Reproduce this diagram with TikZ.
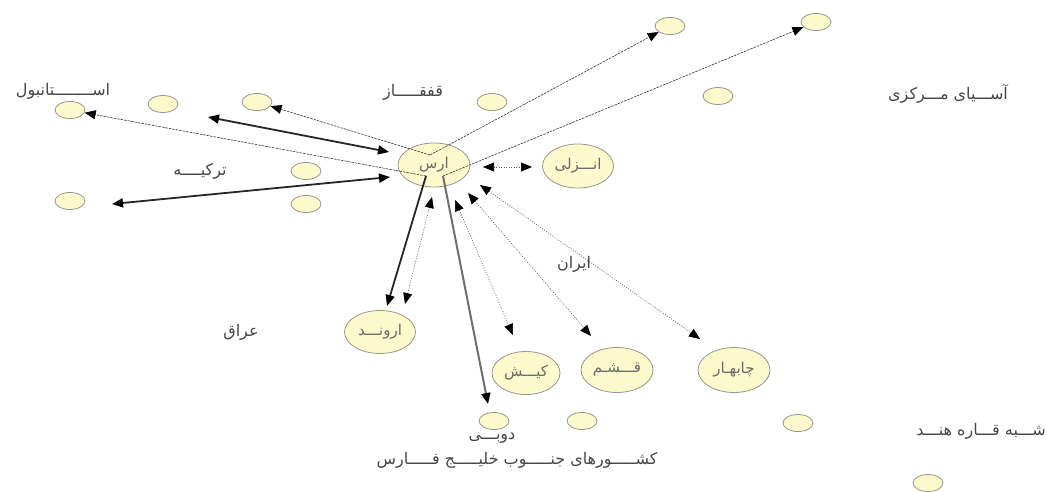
\documentclass[tikz,border=0pt]{standalone}
\usepackage{fontspec}
\newfontfamily\ar[Script=Arabic]{DejaVu Sans}
\TeXXeTstate=1
\usetikzlibrary{shapes.geometric,arrows.meta}
\definecolor{nodefill}{RGB}{252,250,205}
\definecolor{nodeline}{RGB}{150,150,140}
\definecolor{txt}{RGB}{70,70,70}
\definecolor{gboldc}{RGB}{110,110,110}
\begin{document}
\begin{tikzpicture}[x=1pt,y=-1pt,
  small/.style={ellipse,draw=nodeline,fill=nodefill,line width=0.8pt,minimum width=30pt,minimum height=17pt,inner sep=0pt},
  big/.style={ellipse,draw=nodeline,fill=nodefill,line width=0.8pt,minimum width=71pt,minimum height=44pt,inner sep=0pt,font=\ar\fontsize{15}{16}\selectfont,text=txt!80},
  lbl/.style={font=\ar\fontsize{16}{17}\selectfont,text=txt,inner sep=0pt},
  tip/.style={-{Triangle[length=11pt,width=9pt,color=black]}},
  dtip/.style={{Triangle[length=11pt,width=9pt,color=black]}-{Triangle[length=11pt,width=9pt,color=black]}},
  thinl/.style={line width=0.6pt,draw=black!80,dash pattern=on 2.5pt off 1pt},
  dots/.style={line width=0.6pt,draw=black!65,dash pattern=on 1pt off 1.5pt},
  boldl/.style={line width=1.8pt,draw=black!85},
  gboldl/.style={line width=2pt,draw=gboldc},
]
\useasboundingbox (0,0) rectangle (1047,491);
% small nodes
\node[small] (s1) at (70,110) {};
\node[small] (s2) at (163,104) {};
\node[small] (s3) at (257,102) {};
\node[small] (s4) at (306,171) {};
\node[small] (s5) at (306,204) {};
\node[small] (s6) at (70,201) {};
\node[small] (s7) at (492,102) {};
\node[small] (s8) at (670,26) {};
\node[small] (s9) at (816,22) {};
\node[small] (s10) at (718,96) {};
\node[small] (s11) at (494,421) {};
\node[small] (s12) at (582,421) {};
\node[small] (s13) at (798,423) {};
\node[small] (s14) at (928,483) {};
% big nodes
\node[big,minimum width=72pt] (ars) at (434,165) {\beginR ارس\endR};
\node[big] (anzali) at (578,166) {\beginR انـــزلی\endR};
\node[big,minimum height=43pt] (arvand) at (380,332) {\beginR ارونـــد\endR};
\node[big,minimum width=68pt,minimum height=43pt] (kish) at (526,373) {\beginR کیـــش\endR};
\node[big,minimum width=72pt,minimum height=45pt] (qeshm) at (617,370) {\beginR قـــشـم\endR};
\node[big,minimum width=72pt,minimum height=45pt] (chabahar) at (734,370) {\beginR چابهـار\endR};
% labels
\node[lbl] (istanbul) at (63,91) {\beginR اســــــــتانبول\endR};
\node[lbl] (qafqaz) at (413,92) {\beginR قفقـــــاز\endR};
\node[lbl] (torkiye) at (200,171) {\beginR ترکیــــه\endR};
\node[lbl] (asia) at (948,94) {\beginR آســـیای مـــرکزی\endR};
\node[lbl] (iran) at (574,264) {\beginR ایران\endR};
\node[lbl] (iraq) at (241,332) {\beginR عراق\endR};
\node[lbl,anchor=east] (hind) at (1046,431) {\beginR شـــبه قـــاره هنـــد\endR};
\node[lbl] (dubai) at (492,438) {\beginR دوبـــی\endR};
\node[lbl] (khalij) at (517,460) {\beginR کشـــــورهای جنـــــوب خلیـــــج فـــــارس\endR};
% hub points inside ars
\coordinate (cT) at (430,155);
\coordinate (cL) at (426,176);
\coordinate (cR) at (443,176);
% free ends
\coordinate (b1L) at (208,117);
\coordinate (b1R) at (389,152);
\coordinate (b2L) at (112,204);
\coordinate (b2R) at (390,177);
\coordinate (anzL) at (483,167);
\coordinate (anzR) at (532,167);
\coordinate (arvU) at (432,197);
\coordinate (arvD) at (405,304);
\coordinate (kishU) at (455,200);
\coordinate (kishD) at (513,335);
\coordinate (qeshmU) at (468,193);
\coordinate (qeshmD) at (591,336);
\coordinate (chabU) at (480,185);
\coordinate (chabD) at (700,339);
\coordinate (dubD) at (488,404);
\coordinate (arvT) at (387,306);
% connectors
\draw[thinl,tip] (cT) -- (s8);
\draw[thinl,tip] (cR) -- (s9);
\draw[thinl,tip] (cT) -- (s3);
\draw[thinl,tip] (cL) -- (s1);
\draw[boldl,dtip] (b1L) -- (b1R);
\draw[boldl,dtip] (b2L) -- (b2R);
\draw[dots,dtip] (anzL) -- (anzR);
\draw[boldl,tip] (cL) -- (arvT);
\draw[dots,dtip] (arvU) -- (arvD);
\draw[gboldl,tip] (cR) -- (dubD);
\draw[dots,dtip] (kishU) -- (kishD);
\draw[dots,dtip] (qeshmU) -- (qeshmD);
\draw[dots,dtip] (chabU) -- (chabD);
\end{tikzpicture}
\end{document}
